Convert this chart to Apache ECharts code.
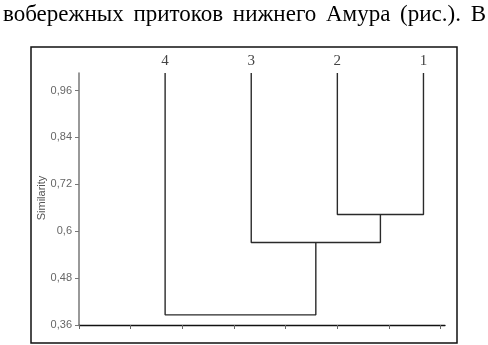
<!DOCTYPE html>
<html>
<head>
<meta charset="utf-8">
<script src="https://cdn.jsdelivr.net/npm/echarts@6/dist/echarts.min.js"></script>
<style>
  html, body { margin: 0; padding: 0; background: #fff; }
  #wrap { position: relative; width: 488px; height: 345px; overflow: hidden; }
  #txt { position: absolute; left: 3px; right: 2px; top: 0; font-family: "Liberation Serif", serif; font-size: 23px; line-height: 28px; color: #000; text-align: justify; text-align-last: justify; white-space: nowrap; z-index: 2; }
  #main { position: absolute; left: 0; top: 0; width: 488px; height: 345px; }
</style>
</head>
<body>
<div id="wrap">
  <div id="txt">вобережных притоков нижнего Амура (рис.). В</div>
  <div id="main"></div>
</div>
<script>
// ---- data ----
var leafLabels = ['4', '3', '2', '1'];          // leaves in drawing order, at x = 1..4
var leafPositions = [1, 2, 3, 4];
// merges: [node a, node b, similarity]; nodes 0..3 are leaves, 4.. are merges
var merges = [
  [2, 3, 0.643],
  [1, 4, 0.571],
  [0, 5, 0.386]
];
var yTickValues = [0.36, 0.48, 0.6, 0.72, 0.84, 0.96];
var yTickLabels = ['0,36', '0,48', '0,6', '0,72', '0,84', '0,96'];
var xTickValues = [0, 0.6, 1.2, 1.8, 2.4, 3.0, 3.6, 4.2];
var yMin = 0.36, yMax = 1.005;
var xMin = 0, xMax = 4.25;
var yAxisTitle = 'Similarity';

// ---- build dendrogram segments ----
var nodes = leafPositions.map(function (x) { return { x: x, h: yMax }; });
var series = [];
merges.forEach(function (m) {
  var a = nodes[m[0]], b = nodes[m[1]], h = m[2];
  series.push({
    type: 'line',
    xAxisIndex: 0,
    yAxisIndex: 0,
    symbol: 'none',
    animation: false,
    silent: true,
    lineStyle: { color: '#2a2a2a', width: 1.4 },
    data: [[a.x, a.h], [a.x, h], [b.x, h], [b.x, b.h]]
  });
  nodes.push({ x: (a.x + b.x) / 2, h: h });
});

var chart = echarts.init(document.getElementById('main'), null, { renderer: 'canvas' });
chart.setOption({
  backgroundColor: '#fff',
  animation: false,
  grid: { left: 79, right: 43, top: 73, bottom: 20, containLabel: false },
  graphic: [{
    type: 'rect',
    shape: { x: 31, y: 47, width: 426, height: 296 },
    style: { fill: 'none', stroke: '#111', lineWidth: 1.5 },
    silent: true
  }, {
    type: 'text',
    x: 42, y: 198,
    rotation: Math.PI / 2,
    style: {
      text: yAxisTitle,
      fontFamily: 'Liberation Sans',
      fontSize: 11,
      fill: '#555',
      align: 'center',
      verticalAlign: 'middle'
    },
    silent: true
  }],
  xAxis: [{
    type: 'value',
    min: xMin, max: xMax,
    position: 'bottom',
    axisLine: { show: true, onZero: false, lineStyle: { color: '#111', width: 1.3 } },
    axisTick: { show: true, customValues: xTickValues, length: 4, inside: false, lineStyle: { color: '#666', width: 1 } },
    axisLabel: { show: false },
    splitLine: { show: false }
  }, {
    type: 'value',
    min: xMin, max: xMax,
    position: 'top',
    axisLine: { show: false },
    axisTick: { show: false },
    axisLabel: {
      show: true,
      customValues: leafPositions,
      formatter: function (v) { return leafLabels[leafPositions.indexOf(v)]; },
      fontFamily: 'Liberation Serif',
      fontSize: 15,
      color: '#444',
      margin: 4
    },
    splitLine: { show: false }
  }],
  yAxis: {
    type: 'value',
    min: yMin, max: yMax,
    axisLine: { show: true, onZero: false, lineStyle: { color: '#777', width: 1.5 } },
    axisTick: { show: true, customValues: yTickValues, length: 4, lineStyle: { color: '#777', width: 1 } },
    axisLabel: {
      show: true,
      customValues: yTickValues,
      formatter: function (v) {
        var i = yTickValues.findIndex(function (t) { return Math.abs(t - v) < 1e-9; });
        return i >= 0 ? yTickLabels[i] : '';
      },
      fontFamily: 'Liberation Sans',
      fontSize: 11,
      color: '#666',
      margin: 7
    },
    splitLine: { show: false }
  },
  series: series
});
</script>
</body>
</html>
